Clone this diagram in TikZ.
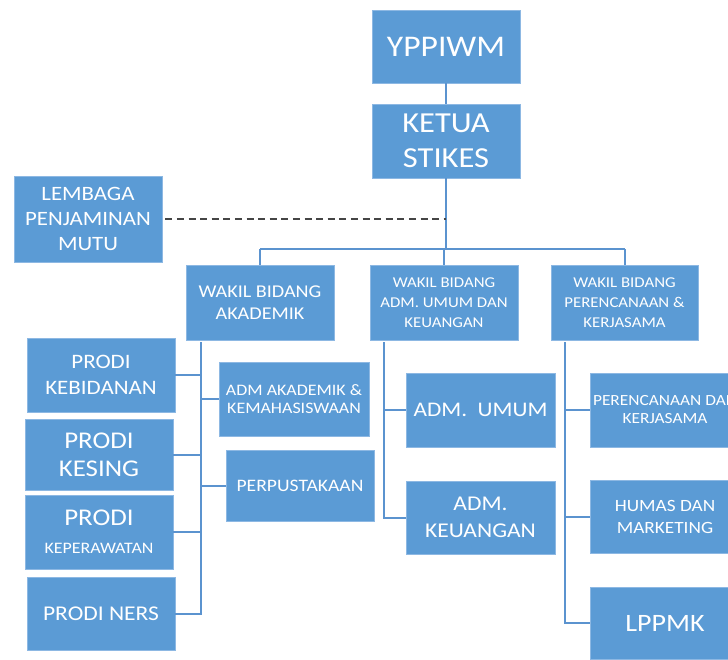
\documentclass[tikz,border=0pt]{standalone}
\usepackage{fontspec}
\setmainfont{Carlito}[FakeStretch=1.12]
\definecolor{boxblue}{HTML}{5B9BD5}
\definecolor{boxedge}{HTML}{8DB8E3}
\definecolor{linkblue}{HTML}{5B93CF}
\definecolor{dashgray}{HTML}{454545}
\newcommand{\fs}[2]{\fontsize{#1}{#2}\selectfont}
\tikzset{
  orgbox/.style={draw=boxedge, line width=0.6pt, fill=boxblue, text=white,
    align=center, inner sep=1pt},
  conn/.style={draw=linkblue, line width=2pt},
  dashconn/.style={draw=dashgray, line width=2.8pt, dash pattern=on 7pt off 4.6pt},
}
\begin{document}
\begin{tikzpicture}[x=1pt,y=-1pt]
\useasboundingbox (0,0) rectangle (728,659);
\clip (0,0) rectangle (728,659);
\fill[white] (0,0) rectangle (728,659);
% top
\node[orgbox, font=\fs{30}{34}, minimum width=148pt, minimum height=73pt] (yp) at (446,46.5) {YPPIWM};
\node[orgbox, font=\fs{29}{35}, minimum width=148pt, minimum height=74pt] (ket) at (446,141) {KETUA\\STIKES};
\node[orgbox, font=\fs{20.4}{25}, minimum width=148pt, minimum height=86pt] (lpm) at (88,219) {LEMBAGA\\PENJAMINAN\\MUTU};
% wakil
\node[orgbox, font=\fs{18}{22}, minimum width=148pt, minimum height=75pt] (wa) at (260,302.5) {WAKIL BIDANG\\AKADEMIK};
\node[orgbox, font=\fs{15}{20}, minimum width=148pt, minimum height=75pt] (wb) at (444,302.5) {WAKIL BIDANG\\ADM. UMUM DAN\\KEUANGAN};
\node[orgbox, font=\fs{15}{20}, minimum width=147pt, minimum height=75pt] (wc) at (624.5,302.5) {WAKIL BIDANG\\PERENCANAAN \&\\KERJASAMA};
% prodi
\node[orgbox, font=\fs{20.5}{26}, minimum width=148pt, minimum height=74pt] (p1) at (101,375) {PRODI\\KEBIDANAN};
\node[orgbox, font=\fs{24}{28}, minimum width=148pt, minimum height=71pt] (p2) at (99,454.5) {PRODI\\KESING};
\node[orgbox, font=\fs{24}{28}, minimum width=148pt, minimum height=74pt] (p3) at (99,532) {PRODI\\{\fs{16}{28}KEPERAWATAN}};
\node[orgbox, font=\fs{21}{24}, minimum width=148pt, minimum height=73pt] (p4) at (101,613.5) {PRODI NERS};
\node[orgbox, font=\fs{16}{17.5}, minimum width=150pt, minimum height=74pt] (aa) at (294,399) {ADM AKADEMIK \&\\KEMAHASISWAAN};
\node[orgbox, font=\fs{17.5}{20}, minimum width=148pt, minimum height=71pt] (pp) at (300,485.5) {PERPUSTAKAAN};
% adm
\node[orgbox, font=\fs{20.8}{26}, minimum width=149pt, minimum height=74pt] (au) at (480.5,410) {ADM.\ \ UMUM};
\node[orgbox, font=\fs{21}{27}, minimum width=149pt, minimum height=73pt] (ak) at (480.5,517.5) {ADM.\\KEUANGAN};
% perencanaan
\node[orgbox, font=\fs{15.5}{18}, minimum width=150pt, minimum height=74pt] (pk) at (665,410) {\makebox[140pt][c]{PERENCANAAN DAN}\\KERJASAMA};
\node[orgbox, font=\fs{17.2}{22}, minimum width=150pt, minimum height=73pt] (hm) at (665,516.5) {HUMAS DAN\\MARKETING};
\node[orgbox, font=\fs{25}{30}, minimum width=150pt, minimum height=72pt] (lp) at (665,623) {LPPMK};
% connectors
\coordinate (busy) at (0,249);
\draw[conn] (yp.south) -- (ket.north);
\draw[conn] (ket.south) -- (ket.south |- busy);
\draw[conn] (wa.north |- busy) -- (wc.north |- busy);
\draw[conn] (wa.north |- busy) -- (wa.north);
\draw[conn] (wb.north |- busy) -- (wb.north);
\draw[conn] (wc.north |- busy) -- (wc.north);
\coordinate (dstart) at ([xshift=3pt]lpm.east);
\draw[dashconn] (dstart) -- (lpm.east -| ket.south);
% akademik branch
\coordinate (vaT) at (201,342);
\draw[conn] (vaT) |- (p4.east);
\draw[conn] (p1.east) -- (p1.east -| vaT);
\draw[conn] (p2.east) -- (p2.east -| vaT);
\draw[conn] (p3.east) -- (p3.east -| vaT);
\draw[conn] (aa.west) -- (aa.west -| vaT);
\draw[conn] (pp.west) -- (pp.west -| vaT);
% adm branch
\coordinate (vbT) at (384,342);
\draw[conn] (vbT) |- (ak.west);
\draw[conn] (au.west) -- (au.west -| vbT);
% perencanaan branch
\coordinate (vcT) at (565,342);
\draw[conn] (vcT) |- (lp.west);
\draw[conn] (pk.west) -- (pk.west -| vcT);
\draw[conn] (hm.west) -- (hm.west -| vcT);
\end{tikzpicture}
\end{document}
